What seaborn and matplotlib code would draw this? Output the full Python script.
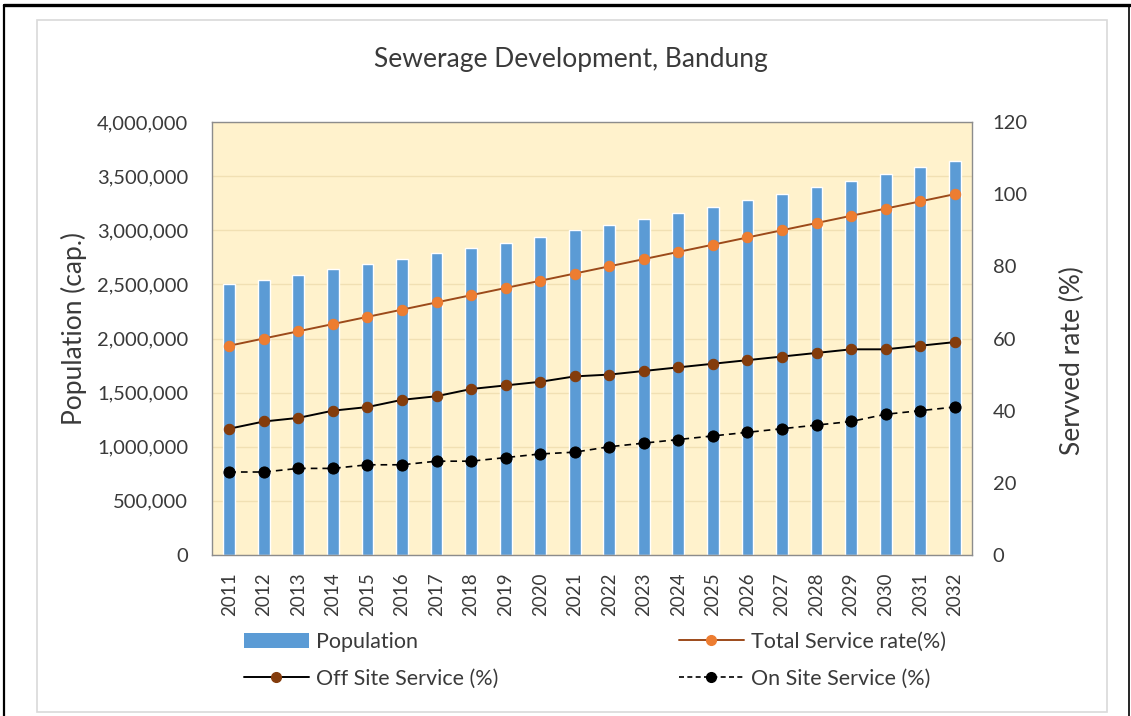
import matplotlib
matplotlib.use("Agg")
import matplotlib.pyplot as plt
import numpy as np
import pandas as pd
import seaborn as sns
from matplotlib.lines import Line2D
from matplotlib.patches import Patch, Rectangle
from matplotlib.ticker import FuncFormatter, MultipleLocator

# ---- data -------------------------------------------------------------
years = [str(y) for y in range(2011, 2033)]
population = [2500000, 2540000, 2587000, 2642000, 2688000, 2731000, 2789000,
              2835000, 2878000, 2936000, 2998000, 3044000, 3102000, 3160000,
              3218000, 3280000, 3338000, 3396000, 3455000, 3519000, 3580000,
              3644000]
total_service = [58, 60, 62, 64, 66, 68, 70, 72, 74, 76, 78, 80, 82, 84, 86,
                 88, 90, 92, 94, 96, 98, 100]
off_site = [35, 37, 38, 40, 41, 43, 44, 46, 47, 48, 49.5, 50, 51, 52, 53, 54,
            55, 56, 57, 57, 58, 59]
on_site = [23, 23, 24, 24, 25, 25, 26, 26, 27, 28, 28.5, 30, 31, 32, 33, 34,
           35, 36, 37, 39, 40, 41]

title = "Sewerage Development, Bandung"
left_label = "Population (cap.)"
right_label = "Servved rate (%)"
legend_labels = ["Population", "Total Service rate(%)",
                 "Off Site Service (%)", "On Site Service (%)"]

df = pd.DataFrame({
    "year": years,
    "pos": np.arange(len(years)),
    "population": population,
    "total": total_service,
    "off": off_site,
    "on": on_site,
})

# ---- style ------------------------------------------------------------
sns.set_theme(style="white")
plt.rcParams["font.family"] = ["Lato", "DejaVu Sans"]
text_color = "#3a3a3a"
bar_color = "#5B9BD5"
total_line = "#9C4A1A"
total_marker = "#ED7D31"
off_marker = "#843C0C"

W, H = 1131, 716
fig = plt.figure(figsize=(W / 100, H / 100), dpi=100)
fig.patch.set_facecolor("white")

# page frame and chart area outline
fig.add_artist(Line2D([4 / W, 4 / W], [0, 1 - 5 / H], transform=fig.transFigure,
                      color="black", lw=1.6))
fig.add_artist(Line2D([4 / W, 1130 / W], [1 - 5 / H, 1 - 5 / H],
                      transform=fig.transFigure, color="black", lw=2.4))
fig.add_artist(Line2D([1129 / W, 1129 / W], [0, 1 - 5 / H], transform=fig.transFigure,
                      color="black", lw=1.2))
fig.add_artist(Rectangle((37 / W, 1 - 712 / H), (1107 - 37) / W, (712 - 20) / H,
                         transform=fig.transFigure, fill=False,
                         edgecolor="#d9d9d9", lw=1.2))

px_l, px_r, px_t, px_b = 212, 972, 122, 555
ax = fig.add_axes([px_l / W, 1 - px_b / H, (px_r - px_l) / W, (px_b - px_t) / H])
ax.set_facecolor("#FFF2CC")

sns.barplot(data=df, x="year", y="population", color=bar_color, width=0.34,
            saturation=1, ax=ax, zorder=2)
ax.set_xlim(-0.5, len(years) - 0.5)
ax.set_ylim(0, 4000000)
ax.yaxis.set_major_locator(MultipleLocator(500000))
ax.yaxis.set_major_formatter(FuncFormatter(lambda v, p: f"{int(v):,}"))
ax.grid(axis="y", color="#F1E0B3", lw=1.0, zorder=0)
ax.set_axisbelow(True)
ax.set_xlabel("")
ax.set_ylabel(left_label, fontsize=19, color=text_color)
ax.yaxis.set_label_coords(-0.164, 0.524)
ax.tick_params(axis="y", length=0, pad=17, labelsize=14.5, labelcolor=text_color)
ax.tick_params(axis="x", length=0, pad=12.5, labelsize=13.5, labelcolor=text_color,
               labelrotation=90)
for s in ax.spines.values():
    s.set_color("#8c8c8c")
    s.set_linewidth(1.0)

ax2 = ax.twinx()
sns.lineplot(data=df, x="pos", y="total", ax=ax2, color=total_line, lw=1.4,
             marker="o", markersize=7.5, markerfacecolor=total_marker,
             markeredgecolor=total_marker, zorder=4)
sns.lineplot(data=df, x="pos", y="off", ax=ax2, color="black", lw=1.4,
             marker="o", markersize=7.5, markerfacecolor=off_marker,
             markeredgecolor=off_marker, zorder=4)
sns.lineplot(data=df, x="pos", y="on", ax=ax2, color="black", lw=1.2,
             linestyle=(0, (4, 3)), marker="o", markersize=8,
             markerfacecolor="black", markeredgecolor="black", zorder=4)
ax2.set_xlim(-0.5, len(years) - 0.5)
ax2.set_ylim(0, 120)
ax2.yaxis.set_major_locator(MultipleLocator(20))
ax2.set_xlabel("")
ax2.set_ylabel(right_label, fontsize=19, color=text_color)
ax2.yaxis.set_label_coords(1.116, 0.45)
ax2.tick_params(axis="y", length=0, pad=15, labelsize=14.5, labelcolor=text_color)
ax2.grid(False)
for s in ax2.spines.values():
    s.set_visible(False)

fig.text(571 / W, 1 - 60 / H, title, ha="center", va="center",
         fontsize=19, color=text_color)

# legend entries: population / off site on the left, total / on site on the right
h_pop = Patch(facecolor=bar_color, edgecolor="none")
h_total = Line2D([], [], color=total_line, lw=1.4, marker="o", markersize=7,
                 markerfacecolor=total_marker, markeredgecolor=total_marker)
h_off = Line2D([], [], color="black", lw=1.4, marker="o", markersize=7,
               markerfacecolor=off_marker, markeredgecolor=off_marker)
h_on = Line2D([], [], color="black", lw=1.2, linestyle=(0, (3, 2)), marker="o",
              markersize=7, markerfacecolor="black", markeredgecolor="black")

leg_kw = dict(frameon=False, fontsize=15.5, handlelength=3.0, handletextpad=0.35,
              labelcolor=text_color, borderaxespad=0, borderpad=0,
              loc="center left")
slots = [(h_pop, legend_labels[0], 244, 642),
         (h_total, legend_labels[1], 679, 642),
         (h_off, legend_labels[2], 244, 679),
         (h_on, legend_labels[3], 679, 679)]
for handle, label, lx, ly in slots:
    fig.legend([handle], [label], bbox_to_anchor=(lx / W, 1 - ly / H), **leg_kw)

fig.savefig("out.png", dpi=100, facecolor="white")
